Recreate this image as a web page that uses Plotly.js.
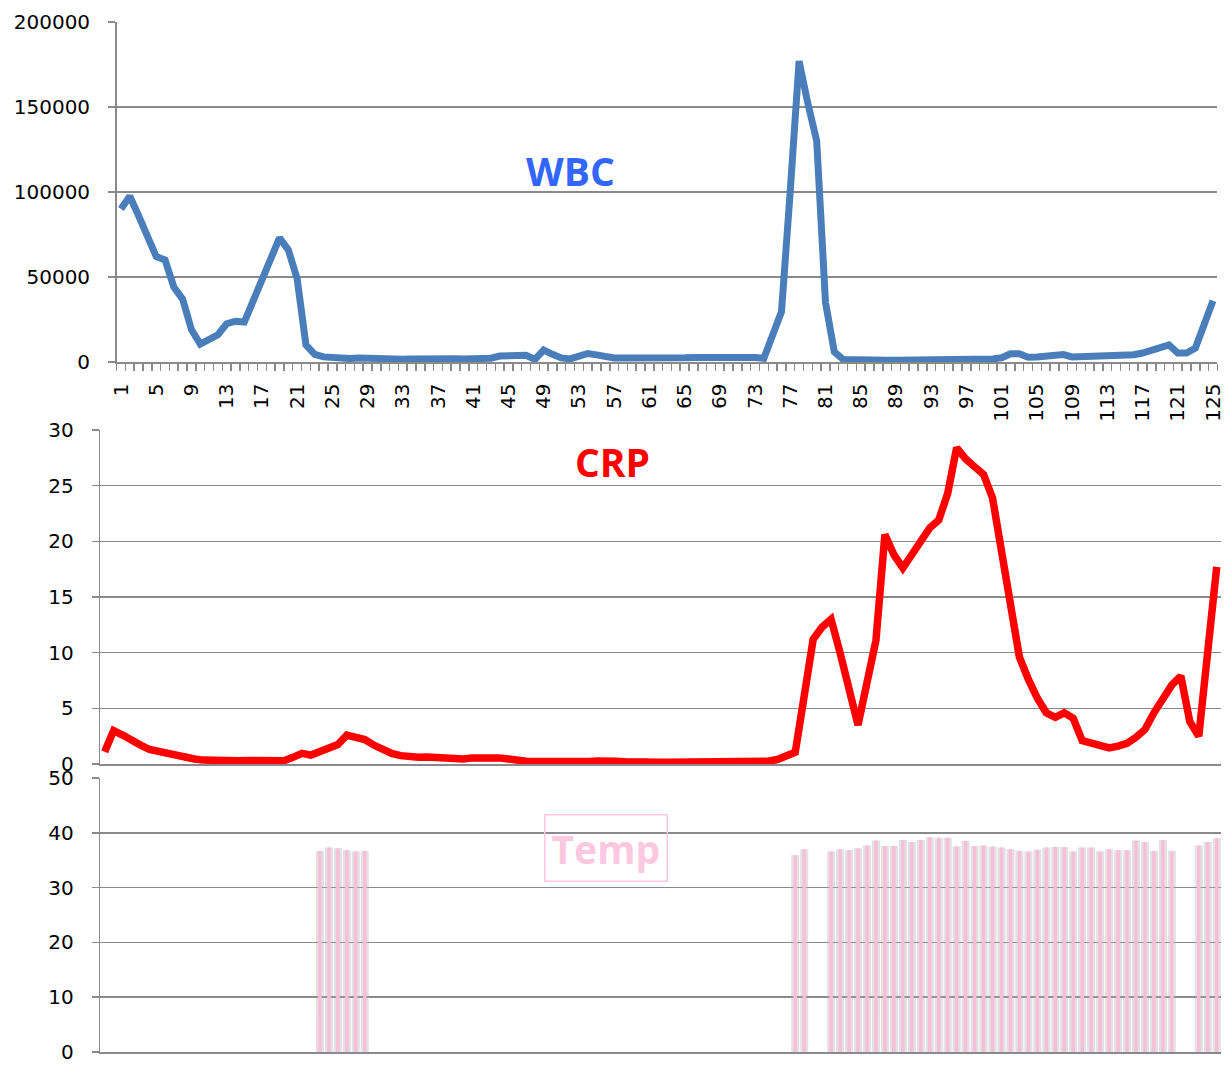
<!DOCTYPE html>
<html>
<head>
<meta charset="utf-8">
<script src="https://cdn.plot.ly/plotly-3.0.1.min.js"></script>
<style>
html,body{margin:0;padding:0;background:#fff;}
#chart{width:1230px;height:1066px;}
</style>
</head>
<body>
<div id="chart"></div>
<script>
// ---------- data ----------
const days = [];
for (let d = 1; d <= 125; d++) days.push(d);

const xTickVals = [1,5,9,13,17,21,25,29,33,37,41,45,49,53,57,61,65,69,73,77,81,85,89,93,97,101,105,109,113,117,121,125];
const xTickText = xTickVals.map(String);

const wbc = [
  90000, 97500, 86000, 74000, 62000, 60000, 44000, 37000, 19000, 10500,
  13000, 16000, 22500, 24000, 23500, 36000, 48500, 61000, 73000, 66000,
  49000, 10000, 4500, 3000, 2500, 1800, 2000, 2400, 2200, 1500,
  1600, 1700, 1600, 1800, 2000, 2200, 2000, 2000, 1900, 1800,
  2000, 2300, 2200, 3500, 3800, 3900, 3900, 1500, 7000, 4500,
  2400, 1800, 3800, 5000, 4200, 3200, 2400, 2300, 2200, 2100,
  2000, 2000, 2100, 2300, 2500, 2700, 2800, 2800, 3000, 3000,
  2900, 2800, 2600, 2200, 16000, 29500, 101000, 177000, 152000, 130000,
  35000, 6000, 1500, 1200, 1100, 1000, 1000, 1000, 1000, 1000,
  1000, 1000, 1000, 1000, 1000, 1100, 1200, 1300, 1500, 1800,
  2500, 4800, 4800, 2800, 3000, 3200, 3600, 4400, 3000, 3100,
  3300, 3500, 3700, 3700, 3800, 4300, 5300, 6800, 8400, 10000,
  5300, 5300, 8200, 23000, 36000
];

const crp = [
  1.1, 3.0, 2.6, 2.1, 1.7, 1.3, 1.1, 0.9, 0.7, 0.55,
  0.45, 0.35, 0.3, 0.3, 0.3, 0.3, 0.32, 0.32, 0.32, 0.33,
  0.3, 0.6, 0.95, 0.8, 1.1, 1.4, 1.75, 2.6, 2.4, 2.2,
  1.7, 1.3, 0.95, 0.75, 0.6, 0.6, 0.62, 0.58, 0.45, 0.35,
  0.45, 0.55, 0.6, 0.65, 0.55, 0.45, 0.3, 0.25, 0.22, 0.2,
  0.2, 0.2, 0.2, 0.18, 0.22, 0.26, 0.3, 0.25, 0.2, 0.15,
  0.15, 0.15, 0.15, 0.15, 0.15, 0.15, 0.15, 0.15, 0.18, 0.2,
  0.2, 0.18, 0.15, 0.12, 0.25, 0.4, 0.65, 1.05, 6.1, 11.2,
  12.3, 13.0, 10.0, 6.8, 3.5, 7.3, 11.1, 20.6, 18.8, 17.6,
  18.8, 20.1, 21.2, 21.9, 24.3, 28.4, 27.4, 26.7, 26.0, 23.9,
  19.2, 14.2, 9.6, 7.6, 5.9, 4.6, 4.2, 4.6, 4.1, 2.1,
  1.9, 1.65, 1.45, 1.6, 1.85, 2.4, 3.1, 4.6, 6.0, 7.1,
  7.9, 3.8, 2.5, 10.1, 17.7
];

const N = null;
const temp = [
  N, N, N, N, N, N, N, N, N, N,
  N, N, N, N, N, N, N, N, N, N,
  N, N, N, N, 36.7, 37.3, 37.2, 36.8, 36.6, 36.7,
  N, N, N, N, N, N, N, N, N, N,
  N, N, N, N, N, N, N, N, N, N,
  N, N, N, N, N, N, N, N, N, N,
  N, N, N, N, N, N, N, N, N, N,
  N, N, N, N, N, N, N, 35.9, 37.0, N,
  N, 36.6, 37.0, 36.8, 37.2, 37.7, 38.6, 37.6, 37.6, 38.7,
  38.3, 38.7, 39.2, 39.1, 39.1, 37.5, 38.5, 37.6, 37.7, 37.5,
  37.3, 37.0, 36.7, 36.6, 36.9, 37.3, 37.4, 37.4, 36.6, 37.3,
  37.3, 36.6, 37.0, 36.8, 36.8, 38.6, 38.3, 36.7, 38.7, 36.7,
  N, N, 37.7, 38.3, 39.0
];

// ---------- layout helpers ----------
const W = 1230, H = 1066;
const px = v => v / W;
const py = v => 1 - v / H;

const gridC = '#8a8a8a';
const tickFont = {family: 'DejaVu Sans', size: 20, color: '#000'};

function yAx(dom, range, dtick, extra) {
  return Object.assign({
    domain: dom, range: range, dtick: dtick, tick0: 0,
    tickformat: 'd',
    showgrid: true, gridcolor: gridC, gridwidth: 1.5,
    showline: true, linecolor: gridC, linewidth: 1.5,
    ticks: 'outside', ticklen: 7, tickcolor: gridC, tickwidth: 1.5,
    zeroline: false, tickfont: tickFont, ticklabelstandoff: 14,
    fixedrange: true
  }, extra || {});
}

const traces = [
  {
    x: days, y: wbc, type: 'scatter', mode: 'lines',
    xaxis: 'x', yaxis: 'y',
    line: {color: '#4A7EBB', width: 7, shape: 'linear'},
    hoverinfo: 'skip'
  },
  {
    x: days, y: crp, type: 'scatter', mode: 'lines',
    xaxis: 'x2', yaxis: 'y2',
    line: {color: '#FF0000', width: 7.5, shape: 'linear'},
    hoverinfo: 'skip'
  },
  {
    x: days, y: temp, type: 'bar',
    xaxis: 'x3', yaxis: 'y3',
    width: 0.9,
    marker: {color: 'rgba(175,175,175,0.36)', line: {width: 0}},
    hoverinfo: 'skip'
  },
  {
    x: days, y: temp, type: 'bar',
    xaxis: 'x3', yaxis: 'y3',
    width: 0.38,
    marker: {color: '#F8BDD7', line: {width: 0}},
    hoverinfo: 'skip'
  }
];

const layout = {
  width: W, height: H,
  margin: {l: 0, r: 0, t: 0, b: 0, pad: 0},
  paper_bgcolor: '#fff', plot_bgcolor: 'rgba(0,0,0,0)',
  showlegend: false,
  barmode: 'overlay',
  font: {family: 'DejaVu Sans'},
  xaxis: {
    domain: [px(116.6), px(1217.4)], range: [0.5, 125.5],
    anchor: 'y',
    tickmode: 'array', tickvals: xTickVals, ticktext: xTickText,
    tickangle: -90, tickfont: tickFont, ticks: '', ticklabelstandoff: 12,
    showgrid: false, zeroline: false,
    showline: true, linecolor: gridC, linewidth: 1.5,
    minor: {tick0: 0.5, dtick: 1, ticks: 'outside', ticklen: 7, tickcolor: gridC, tickwidth: 1.5, showgrid: false},
    fixedrange: true
  },
  yaxis: yAx([py(362), py(22)], [0, 200000], 50000, {anchor: 'x'}),
  xaxis2: {
    domain: [px(100.2), px(1221.2)], range: [0.5, 125.5],
    anchor: 'y2', showticklabels: false, ticks: '',
    showgrid: false, zeroline: false,
    showline: true, linecolor: gridC, linewidth: 1.5,
    fixedrange: true
  },
  yaxis2: yAx([py(764), py(430)], [0, 30], 5, {anchor: 'x2'}),
  xaxis3: {
    domain: [px(100.2), px(1221.2)], range: [0.5, 125.5],
    anchor: 'y3', showticklabels: false, ticks: '',
    showgrid: false, zeroline: false,
    showline: true, linecolor: gridC, linewidth: 1.5,
    fixedrange: true
  },
  yaxis3: yAx([py(1052), py(778)], [0, 50], 10, {anchor: 'x3'}),
  annotations: [
    {
      xref: 'paper', yref: 'paper', x: px(570), y: py(171),
      xanchor: 'center', yanchor: 'middle', showarrow: false,
      text: '<b>WBC</b>',
      font: {family: 'Open Sans', size: 39, color: '#3366FF'}
    },
    {
      xref: 'paper', yref: 'paper', x: px(612), y: py(461),
      xanchor: 'center', yanchor: 'middle', showarrow: false,
      text: '<b>CRP</b>',
      font: {family: 'Open Sans', size: 39, color: '#FF0000'}
    },
    {
      xref: 'paper', yref: 'paper', x: px(605.5), y: py(847.5),
      xanchor: 'center', yanchor: 'middle', showarrow: false,
      text: '<b>Temp</b>',
      font: {family: 'Open Sans', size: 39, color: '#FCC8E0'},
      bordercolor: '#FCC8E0', borderwidth: 1.5, borderpad: 6,
      bgcolor: 'rgba(255,255,255,0)'
    }
  ]
};

Plotly.newPlot('chart', traces, layout, {displayModeBar: false, staticPlot: true});
</script>
</body>
</html>
